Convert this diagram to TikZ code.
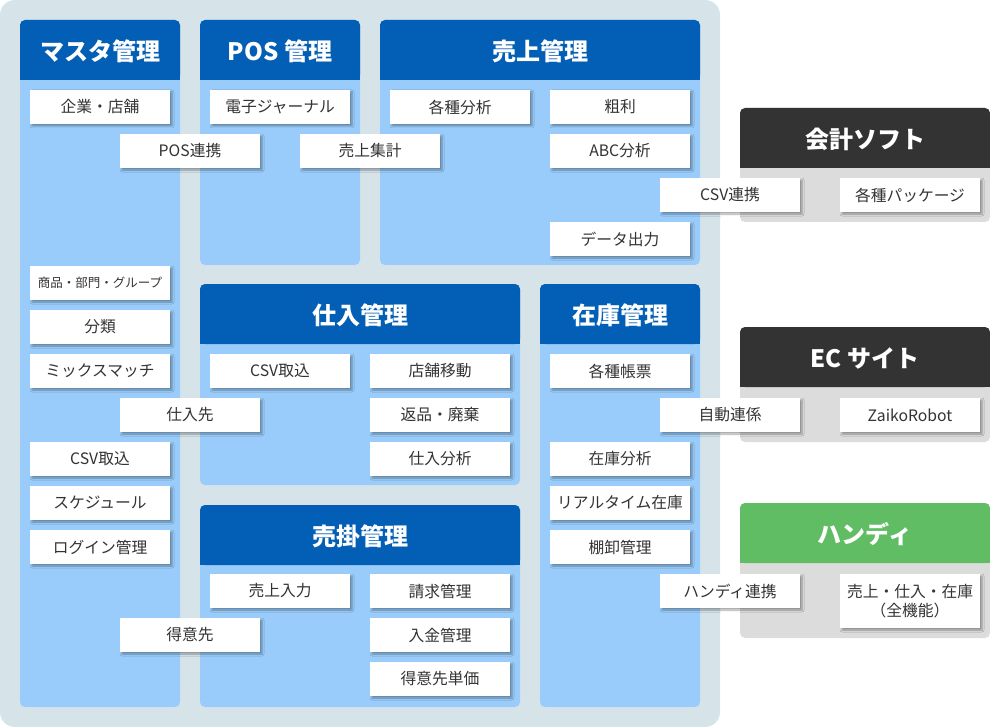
\documentclass[tikz,border=0pt]{standalone}
\usepackage{fontspec}
\setmainfont{Noto Sans CJK JP}
\usetikzlibrary{shadows.blur}
\definecolor{bgc}{HTML}{D6E4EA}
\definecolor{pan}{HTML}{99CCFA}
\definecolor{hdr}{HTML}{035FB5}
\definecolor{darkh}{HTML}{333333}
\definecolor{gpan}{HTML}{DCDCDC}
\definecolor{grn}{HTML}{60BD63}
\definecolor{txt}{HTML}{333333}
\tikzset{
  itembox/.style={fill=white, minimum width=140pt, minimum height=34pt, inner sep=0pt,
    text=txt, font=\fontsize{15.75}{19}\selectfont, align=center,
    blur shadow={shadow xshift=2pt, shadow yshift=-2pt, shadow blur radius=2pt, shadow opacity=35}},
  ttl/.style={text=white, font=\fontsize{24}{28}\selectfont\bfseries},
}
% x1,y1,x2,y2,header bottom,body colour,header colour,name,title
\newcommand\mypanel[9]{%
  \fill[#6, rounded corners=5pt] (#1,#2) rectangle (#3,#4);
  \fill[#7, rounded corners=5pt] (#1,#2) rectangle (#3,#5);
  \fill[#7] (#1,{#5-10}) rectangle (#3,#5);
  \node[ttl] (#8) at ({(#1+#3)/2},{(#2+#5)/2+1}) {#9};
}
\newcommand\itm[4]{\node[itembox] (#1) at ({#2+70},{#3+17}) {\raisebox{-2pt}{#4}};}
\begin{document}
\begin{tikzpicture}[x=1pt,y=-1pt]
\useasboundingbox (0,0) rectangle (990,727);
\fill[bgc, rounded corners=15pt] (0,0) rectangle (720,727);
% panels
\mypanel{20}{20}{180}{707}{80}{pan}{hdr}{tmaster}{マスタ管理}
\mypanel{200}{20}{360}{265}{80}{pan}{hdr}{tpos}{POS 管理}
\mypanel{380}{20}{700}{265}{80}{pan}{hdr}{turiage}{売上管理}
\mypanel{200}{284}{520}{485}{344}{pan}{hdr}{tshiire}{仕入管理}
\mypanel{200}{505}{520}{707}{565}{pan}{hdr}{turikake}{売掛管理}
\mypanel{540}{284}{700}{707}{344}{pan}{hdr}{tzaiko}{在庫管理}
\mypanel{740}{108}{990}{222}{168}{gpan}{darkh}{tkaikei}{会計ソフト}
\mypanel{740}{327}{990}{442}{387}{gpan}{darkh}{tec}{EC サイト}
\mypanel{740}{503}{990}{638}{563}{gpan}{grn}{thandy}{ハンディ}
% items
\itm{m1}{30}{90}{企業・店舗}
\node[itembox, font=\fontsize{12.5}{15}\selectfont] (m2) at (100,283) {\raisebox{-1.5pt}{商品・部門・グループ}};
\itm{m3}{30}{310}{分類}
\itm{m4}{30}{354}{ミックスマッチ}
\itm{m5}{30}{442}{CSV取込}
\itm{m6}{30}{486}{スケジュール}
\itm{m7}{30}{530}{ログイン管理}
\itm{p1}{210}{90}{電子ジャーナル}
\itm{u1}{390}{90}{各種分析}
\itm{u2}{550}{90}{粗利}
\itm{u3}{550}{134}{ABC分析}
\itm{u4}{550}{222}{データ出力}
\itm{l1}{120}{134}{POS連携}
\itm{l2}{300}{134}{売上集計}
\itm{c1}{660}{178}{CSV連携}
\itm{c2}{840}{178}{各種パッケージ}
\itm{s1}{210}{354}{CSV取込}
\itm{s2}{370}{354}{店舗移動}
\itm{s3}{370}{398}{返品・廃棄}
\itm{s4}{370}{442}{仕入分析}
\itm{l3}{120}{398}{仕入先}
\itm{k1}{210}{574}{売上入力}
\itm{k2}{370}{574}{請求管理}
\itm{k3}{370}{618}{入金管理}
\itm{k4}{370}{662}{得意先単価}
\itm{l4}{120}{618}{得意先}
\itm{z1}{550}{354}{各種帳票}
\itm{z2}{550}{442}{在庫分析}
\itm{z3}{550}{486}{リアルタイム在庫}
\itm{z4}{550}{530}{棚卸管理}
\itm{e1}{660}{398}{自動連係}
\itm{e2}{840}{398}{ZaikoRobot}
\itm{h1}{660}{574}{ハンディ連携}
\node[itembox, minimum height=54pt, font=\fontsize{15.75}{18.5}\selectfont] (h2) at (910,601) {売上・仕入・在庫\\（全機能）};
\end{tikzpicture}
\end{document}
